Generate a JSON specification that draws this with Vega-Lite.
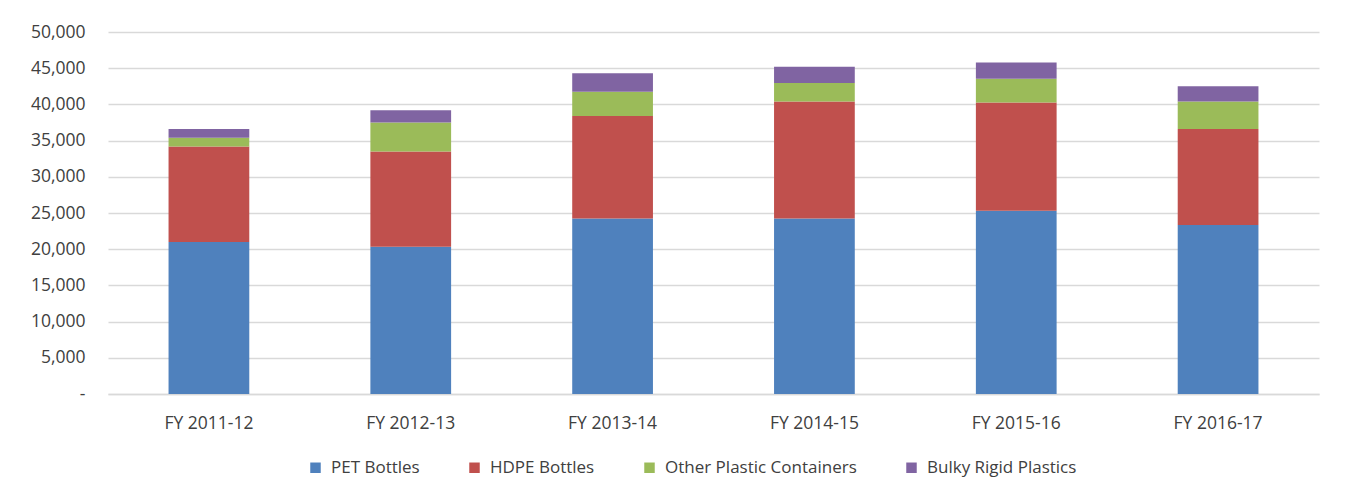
{
  "$schema": "https://vega.github.io/schema/vega-lite/v6.json",
  "autosize": "none",
  "width": 1211,
  "height": 362,
  "padding": {"left": 108, "top": 32, "right": 30, "bottom": 103},
  "background": "white",
  "config": {
    "view": {"stroke": null},
    "font": "Open Sans",
    "axis": {"labelFont": "Open Sans", "labelFontSize": 17.5, "labelColor": "#404040"},
    "legend": {"labelFont": "Open Sans", "labelFontSize": 17, "labelColor": "#404040", "labelLimit": 0}
  },
  "data": {
    "values": [
      {"year": "FY 2011-12", "type": "PET Bottles", "k": 1, "value": 21000},
      {"year": "FY 2011-12", "type": "HDPE Bottles", "k": 2, "value": 13200},
      {"year": "FY 2011-12", "type": "Other Plastic Containers", "k": 3, "value": 1200},
      {"year": "FY 2011-12", "type": "Bulky Rigid Plastics", "k": 4, "value": 1200},
      {"year": "FY 2012-13", "type": "PET Bottles", "k": 1, "value": 20350},
      {"year": "FY 2012-13", "type": "HDPE Bottles", "k": 2, "value": 13150},
      {"year": "FY 2012-13", "type": "Other Plastic Containers", "k": 3, "value": 4000},
      {"year": "FY 2012-13", "type": "Bulky Rigid Plastics", "k": 4, "value": 1700},
      {"year": "FY 2013-14", "type": "PET Bottles", "k": 1, "value": 24250},
      {"year": "FY 2013-14", "type": "HDPE Bottles", "k": 2, "value": 14150},
      {"year": "FY 2013-14", "type": "Other Plastic Containers", "k": 3, "value": 3350},
      {"year": "FY 2013-14", "type": "Bulky Rigid Plastics", "k": 4, "value": 2550},
      {"year": "FY 2014-15", "type": "PET Bottles", "k": 1, "value": 24250},
      {"year": "FY 2014-15", "type": "HDPE Bottles", "k": 2, "value": 16150},
      {"year": "FY 2014-15", "type": "Other Plastic Containers", "k": 3, "value": 2550},
      {"year": "FY 2014-15", "type": "Bulky Rigid Plastics", "k": 4, "value": 2250},
      {"year": "FY 2015-16", "type": "PET Bottles", "k": 1, "value": 25300},
      {"year": "FY 2015-16", "type": "HDPE Bottles", "k": 2, "value": 14950},
      {"year": "FY 2015-16", "type": "Other Plastic Containers", "k": 3, "value": 3300},
      {"year": "FY 2015-16", "type": "Bulky Rigid Plastics", "k": 4, "value": 2250},
      {"year": "FY 2016-17", "type": "PET Bottles", "k": 1, "value": 23350},
      {"year": "FY 2016-17", "type": "HDPE Bottles", "k": 2, "value": 13250},
      {"year": "FY 2016-17", "type": "Other Plastic Containers", "k": 3, "value": 3800},
      {"year": "FY 2016-17", "type": "Bulky Rigid Plastics", "k": 4, "value": 2100}
    ]
  },
  "mark": {"type": "bar"},
  "encoding": {
    "x": {
      "field": "year",
      "type": "nominal",
      "sort": null,
      "scale": {"paddingInner": 0.6, "paddingOuter": 0.3},
      "axis": {
        "title": null,
        "labelAngle": 0,
        "ticks": false,
        "tickSize": 0,
        "labelPadding": 20,
        "domainColor": "#d9d9d9",
        "domainWidth": 1.5,
        "grid": false
      }
    },
    "y": {
      "field": "value",
      "type": "quantitative",
      "stack": "zero",
      "scale": {"domain": [0, 50000], "nice": false},
      "axis": {
        "title": null,
        "values": [0, 5000, 10000, 15000, 20000, 25000, 30000, 35000, 40000, 45000, 50000],
        "labelExpr": "datum.value == 0 ? '-' : format(datum.value, ',')",
        "ticks": false,
        "tickSize": 0,
        "labelPadding": 23,
        "domain": false,
        "grid": true,
        "gridColor": "#d9d9d9",
        "gridWidth": 1.5
      }
    },
    "color": {
      "field": "type",
      "type": "nominal",
      "scale": {
        "domain": ["PET Bottles", "HDPE Bottles", "Other Plastic Containers", "Bulky Rigid Plastics"],
        "range": ["#4F81BD", "#C0504D", "#9BBB59", "#8064A2"]
      },
      "legend": {
        "title": null,
        "orient": "none",
        "direction": "horizontal",
        "legendX": 199,
        "legendY": 427,
        "symbolType": "square",
        "symbolSize": 110,
        "symbolStrokeWidth": 0,
        "labelOffset": 7,
        "labelLimit": 0,
        "columnPadding": 46,
        "padding": 0
      }
    },
    "order": {"field": "k", "type": "quantitative"}
  }
}
